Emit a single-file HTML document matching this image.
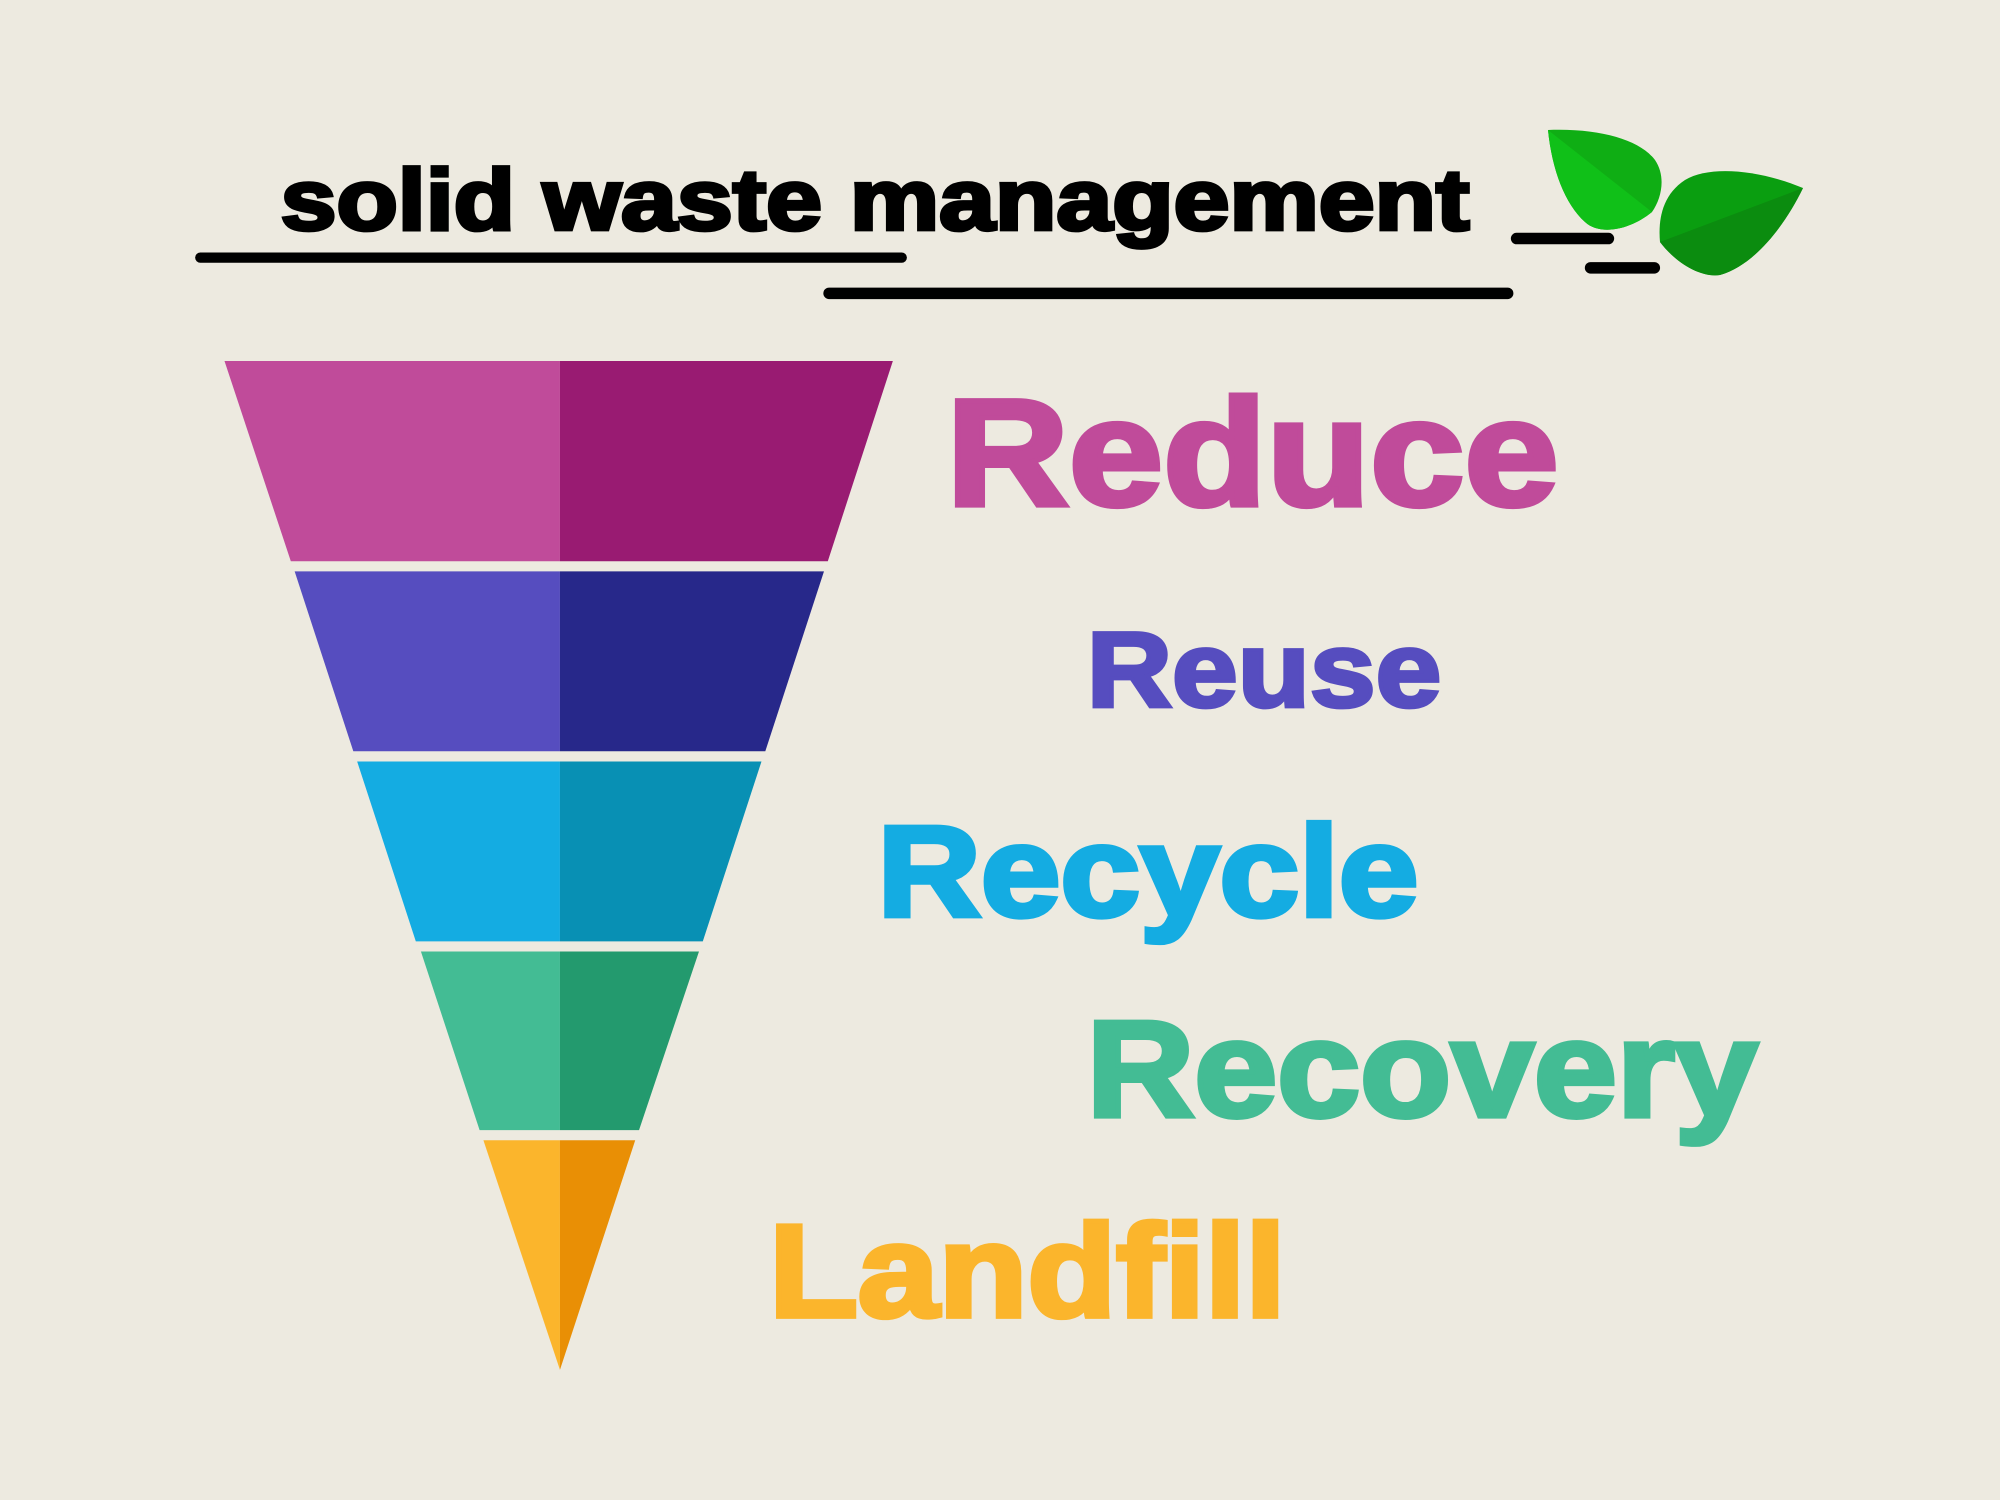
<!DOCTYPE html>
<html><head><meta charset="utf-8"><style>html,body{margin:0;padding:0;background:#edeae0}svg{display:block}</style></head>
<body>
<svg width="2000" height="1500" viewBox="0 0 1568 1176" xmlns="http://www.w3.org/2000/svg">
<rect width="1568" height="1176" fill="#edeae0"/>
<g font-family="Liberation Sans, Arial, sans-serif" font-weight="bold">
<text x="220" y="180" font-size="68" textLength="932" lengthAdjust="spacingAndGlyphs" fill="#000" stroke="#000" stroke-width="3">solid waste management</text>
</g>
<g stroke="#000" stroke-linecap="round" fill="none">
<line x1="157" y1="202" x2="707" y2="202" stroke-width="8"/>
<line x1="650" y1="230" x2="1182" y2="230" stroke-width="9"/>
<line x1="1189" y1="187" x2="1261" y2="187" stroke-width="9"/>
<line x1="1247" y1="210" x2="1297" y2="210" stroke-width="9"/>
</g>
<g transform="scale(0.784)">
<path d="M1548,130 C1600,128 1640,140 1655,160 C1666,176 1662,198 1652,212 C1630,230 1600,236 1585,222 C1565,204 1552,170 1548,130 Z" fill="#0fae14"/>
<path d="M1548,130 L1652,212 C1630,230 1600,236 1585,222 C1565,204 1552,170 1548,130 Z" fill="#10c018"/>
<path d="M1803,188 C1760,170 1710,165 1685,180 C1662,195 1658,220 1660,242 C1675,262 1700,278 1720,275 C1755,265 1785,225 1803,188 Z" fill="#0a9e10"/>
<path d="M1803,188 L1660,242 C1675,262 1700,278 1720,275 C1755,265 1785,225 1803,188 Z" fill="#0b8c0f"/>
</g>
<polygon points="176,283 439,283 439,440 228,440" fill="#c04b9a"/>
<polygon points="439,283 700,283 649,440 439,440" fill="#991b72"/>
<polygon points="231,448 439,448 439,589 277,589" fill="#564dbf"/>
<polygon points="439,448 646,448 600,589 439,589" fill="#27288a"/>
<polygon points="280,597 439,597 439,738 326,738" fill="#14ace2"/>
<polygon points="439,597 597,597 551,738 439,738" fill="#0890b4"/>
<polygon points="330,746 439,746 439,886 376,886" fill="#43bc94"/>
<polygon points="439,746 548,746 501,886 439,886" fill="#239a6e"/>
<polygon points="379,894 439,894 439,1074" fill="#fbb52c"/>
<polygon points="439,894 498,894 439,1074" fill="#e98f05"/>
<g font-family="Liberation Sans, Arial, sans-serif" font-weight="bold" lengthAdjust="spacingAndGlyphs">
<text x="742" y="396" font-size="119" textLength="480" lengthAdjust="spacingAndGlyphs" fill="#c04b9a" stroke="#c04b9a" stroke-width="4">Reduce</text>
<text x="852" y="554" font-size="84" textLength="278" lengthAdjust="spacingAndGlyphs" fill="#564dbf" stroke="#564dbf" stroke-width="3">Reuse</text>
<text x="688" y="718" font-size="101" textLength="424" lengthAdjust="spacingAndGlyphs" fill="#14ace2" stroke="#14ace2" stroke-width="4">Recycle</text>
<text x="852" y="875" font-size="107" textLength="526" lengthAdjust="spacingAndGlyphs" fill="#43bc94" stroke="#43bc94" stroke-width="4">Recovery</text>
<text x="603" y="1032" font-size="103" textLength="405" lengthAdjust="spacingAndGlyphs" fill="#fbb52c" stroke="#fbb52c" stroke-width="4">Landfill</text>
</g>
</svg>
</body></html>
